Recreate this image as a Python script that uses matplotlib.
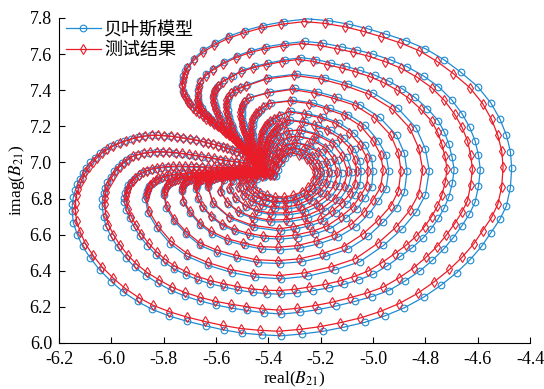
import matplotlib
matplotlib.use("Agg")
import matplotlib.pyplot as plt
from matplotlib.font_manager import FontProperties

plt.rcParams['font.family'] = ['Liberation Serif', 'DejaVu Serif']
plt.rcParams['mathtext.fontset'] = 'stix'
plt.rcParams['axes.unicode_minus'] = False

# B21 values, one list per revolution of the spiral
# (outermost first); each list runs: centre -> up-left finger -> top -> right
# -> bottom -> left -> left lobe -> back to centre
blue_1 = [(-5.45, 7.03), (-5.46, 7.045), (-5.47, 7.06), (-5.48, 7.072), (-5.49, 7.085),
          (-5.50, 7.097), (-5.51, 7.11), (-5.522, 7.125), (-5.535, 7.14), (-5.547, 7.155),
          (-5.56, 7.17), (-5.575, 7.185), (-5.59, 7.20), (-5.605, 7.215), (-5.62, 7.23),
          (-5.635, 7.245), (-5.65, 7.26), (-5.663, 7.275), (-5.675, 7.29), (-5.688, 7.307),
          (-5.70, 7.325), (-5.708, 7.342), (-5.715, 7.36), (-5.722, 7.378), (-5.727, 7.395),
          (-5.73, 7.43), (-5.728, 7.455), (-5.725, 7.48), (-5.718, 7.505), (-5.71, 7.53),
          (-5.685, 7.575), (-5.65, 7.62), (-5.605, 7.66), (-5.55, 7.70), (-5.49, 7.73),
          (-5.42, 7.758), (-5.34, 7.78), (-5.25, 7.795), (-5.17, 7.785), (-5.09, 7.765),
          (-5.02, 7.74), (-4.95, 7.71), (-4.875, 7.675), (-4.80, 7.63), (-4.73, 7.57),
          (-4.665, 7.50), (-4.60, 7.42), (-4.55, 7.33), (-4.515, 7.24), (-4.49, 7.15),
          (-4.475, 7.06), (-4.47, 6.97), (-4.475, 6.86), (-4.49, 6.76), (-4.515, 6.685),
          (-4.55, 6.61), (-4.585, 6.535), (-4.63, 6.46), (-4.68, 6.39), (-4.74, 6.32),
          (-4.805, 6.255), (-4.88, 6.195), (-4.955, 6.15), (-5.03, 6.115), (-5.11, 6.088),
          (-5.19, 6.065), (-5.27, 6.05), (-5.35, 6.04), (-5.425, 6.045), (-5.50, 6.055),
          (-5.57, 6.072), (-5.64, 6.095), (-5.71, 6.12), (-5.78, 6.15), (-5.845, 6.187),
          (-5.90, 6.23), (-5.955, 6.283), (-6.00, 6.34), (-6.045, 6.405), (-6.08, 6.47),
          (-6.11, 6.535), (-6.13, 6.60), (-6.145, 6.665),
          (-6.15, 6.73), (-6.149, 6.77), (-6.145, 6.81), (-6.138, 6.845), (-6.13, 6.88),
          (-6.12, 6.91), (-6.11, 6.94), (-6.095, 6.97), (-6.08, 7.00), (-6.063, 7.025),
          (-6.045, 7.05), (-6.023, 7.071), (-6.00, 7.09), (-5.975, 7.106), (-5.95, 7.12),
          (-5.925, 7.131), (-5.90, 7.14), (-5.875, 7.146), (-5.85, 7.15), (-5.825, 7.15),
          (-5.80, 7.148), (-5.775, 7.145), (-5.75, 7.14), (-5.725, 7.135), (-5.70, 7.13),
          (-5.675, 7.123), (-5.65, 7.115), (-5.63, 7.108), (-5.61, 7.10), (-5.59, 7.093),
          (-5.57, 7.085), (-5.552, 7.077), (-5.535, 7.068), (-5.518, 7.059), (-5.50, 7.05),
          (-5.485, 7.04), (-5.47, 7.03)]
blue_2 = [(-5.45, 7.00), (-5.457, 7.015), (-5.465, 7.03), (-5.472, 7.045), (-5.48, 7.06),
          (-5.49, 7.075), (-5.50, 7.09), (-5.51, 7.105), (-5.52, 7.12), (-5.532, 7.135),
          (-5.545, 7.15), (-5.557, 7.165), (-5.57, 7.18), (-5.582, 7.195), (-5.595, 7.21),
          (-5.607, 7.225), (-5.62, 7.24), (-5.63, 7.255), (-5.64, 7.27), (-5.648, 7.285),
          (-5.655, 7.30), (-5.66, 7.312), (-5.665, 7.325), (-5.668, 7.338), (-5.67, 7.35),
          (-5.669, 7.375), (-5.667, 7.40), (-5.664, 7.425),
          (-5.66, 7.45), (-5.638, 7.488), (-5.61, 7.52), (-5.568, 7.557), (-5.52, 7.59),
          (-5.467, 7.618), (-5.41, 7.64), (-5.335, 7.658), (-5.26, 7.67), (-5.19, 7.66),
          (-5.12, 7.64), (-5.06, 7.622), (-5.00, 7.60), (-4.933, 7.568), (-4.87, 7.53),
          (-4.807, 7.479), (-4.75, 7.42), (-4.70, 7.348), (-4.66, 7.27), (-4.631, 7.196),
          (-4.61, 7.12), (-4.597, 7.04), (-4.59, 6.96), (-4.597, 6.868), (-4.61, 6.78),
          (-4.632, 6.713), (-4.66, 6.65), (-4.693, 6.584), (-4.73, 6.52), (-4.773, 6.458),
          (-4.82, 6.40), (-4.878, 6.343), (-4.94, 6.29), (-5.004, 6.257), (-5.07, 6.23),
          (-5.14, 6.205), (-5.21, 6.185), (-5.28, 6.17), (-5.35, 6.16), (-5.415, 6.167),
          (-5.48, 6.18), (-5.54, 6.193), (-5.60, 6.21), (-5.662, 6.233), (-5.72, 6.26),
          (-5.772, 6.292), (-5.82, 6.33), (-5.868, 6.373), (-5.91, 6.42), (-5.945, 6.473),
          (-5.975, 6.53), (-6.00, 6.587), (-6.02, 6.645), (-6.03, 6.70),
          (-6.035, 6.76), (-6.034, 6.795), (-6.03, 6.83), (-6.024, 6.86), (-6.015, 6.89),
          (-6.003, 6.92), (-5.99, 6.95), (-5.975, 6.973), (-5.96, 6.995), (-5.943, 7.013),
          (-5.925, 7.03), (-5.903, 7.041), (-5.88, 7.05), (-5.855, 7.054), (-5.83, 7.057),
          (-5.805, 7.057), (-5.78, 7.055), (-5.755, 7.052), (-5.73, 7.048), (-5.705, 7.043),
          (-5.68, 7.037), (-5.655, 7.031), (-5.63, 7.025), (-5.605, 7.019), (-5.58, 7.013),
          (-5.56, 7.009), (-5.54, 7.005), (-5.52, 7.001), (-5.50, 6.998), (-5.485, 6.995),
          (-5.47, 6.993)]
blue_3 = [(-5.44, 6.985), (-5.447, 7.00), (-5.455, 7.015), (-5.462, 7.03), (-5.47, 7.045),
          (-5.48, 7.06), (-5.49, 7.075), (-5.50, 7.09), (-5.51, 7.105), (-5.52, 7.12),
          (-5.53, 7.135), (-5.54, 7.15), (-5.55, 7.165), (-5.558, 7.18), (-5.565, 7.20),
          (-5.572, 7.22), (-5.58, 7.24), (-5.588, 7.26), (-5.595, 7.28), (-5.60, 7.30),
          (-5.605, 7.32), (-5.608, 7.34), (-5.61, 7.36), (-5.608, 7.38), (-5.605, 7.40),
          (-5.598, 7.415), (-5.59, 7.43), (-5.57, 7.455), (-5.537, 7.48),
          (-5.50, 7.51), (-5.452, 7.533), (-5.40, 7.55), (-5.338, 7.568), (-5.275, 7.58),
          (-5.217, 7.57), (-5.16, 7.55), (-5.104, 7.532), (-5.05, 7.51), (-4.993, 7.483),
          (-4.94, 7.45), (-4.888, 7.408), (-4.84, 7.36), (-4.792, 7.298), (-4.75, 7.23),
          (-4.727, 7.166), (-4.71, 7.10), (-4.698, 7.03), (-4.69, 6.96), (-4.697, 6.884),
          (-4.71, 6.81), (-4.728, 6.748), (-4.75, 6.69), (-4.778, 6.633), (-4.81, 6.58),
          (-4.85, 6.528), (-4.895, 6.48), (-4.946, 6.427), (-5.00, 6.38), (-5.054, 6.35),
          (-5.11, 6.325), (-5.17, 6.305), (-5.23, 6.29), (-5.29, 6.277), (-5.35, 6.27),
          (-5.405, 6.273), (-5.46, 6.28), (-5.515, 6.293), (-5.57, 6.31), (-5.622, 6.328),
          (-5.67, 6.35), (-5.716, 6.378), (-5.76, 6.41), (-5.797, 6.447), (-5.83, 6.49),
          (-5.862, 6.538), (-5.89, 6.59), (-5.912, 6.64), (-5.93, 6.69), (-5.943, 6.735),
          (-5.95, 6.78), (-5.95, 6.805), (-5.948, 6.83), (-5.942, 6.853), (-5.935, 6.875),
          (-5.925, 6.893), (-5.915, 6.91), (-5.90, 6.926), (-5.885, 6.94), (-5.868, 6.951),
          (-5.85, 6.96), (-5.83, 6.966), (-5.81, 6.97), (-5.787, 6.973), (-5.765, 6.975),
          (-5.742, 6.976), (-5.72, 6.975), (-5.697, 6.974), (-5.675, 6.973), (-5.652, 6.972),
          (-5.63, 6.97), (-5.607, 6.969), (-5.585, 6.968), (-5.565, 6.967), (-5.545, 6.966),
          (-5.525, 6.965), (-5.505, 6.965), (-5.487, 6.965), (-5.47, 6.965)]
blue_4 = [(-5.435, 6.97), (-5.442, 6.985), (-5.45, 7.00), (-5.457, 7.015), (-5.465, 7.03),
          (-5.472, 7.045), (-5.48, 7.06), (-5.488, 7.075), (-5.495, 7.09), (-5.503, 7.105),
          (-5.51, 7.12), (-5.517, 7.135), (-5.524, 7.15), (-5.53, 7.17), (-5.535, 7.19),
          (-5.54, 7.21), (-5.545, 7.23), (-5.55, 7.25), (-5.553, 7.27), (-5.556, 7.29),
          (-5.558, 7.31), (-5.558, 7.33), (-5.556, 7.35), (-5.55, 7.37), (-5.54, 7.39),
          (-5.525, 7.405), (-5.505, 7.418), (-5.48, 7.43),
          (-5.40, 7.47), (-5.29, 7.49), (-5.185, 7.47), (-5.095, 7.435), (-5.00, 7.385),
          (-4.905, 7.30), (-4.835, 7.19), (-4.80, 7.075), (-4.785, 6.955), (-4.80, 6.82),
          (-4.835, 6.725), (-4.89, 6.63), (-4.96, 6.54), (-5.05, 6.45), (-5.145, 6.405),
          (-5.25, 6.37), (-5.35, 6.355), (-5.45, 6.365), (-5.54, 6.39), (-5.63, 6.43),
          (-5.71, 6.48), (-5.775, 6.55), (-5.825, 6.635), (-5.86, 6.72),
          (-5.87, 6.80), (-5.868, 6.82), (-5.865, 6.84), (-5.86, 6.855), (-5.855, 6.87),
          (-5.846, 6.883), (-5.835, 6.895), (-5.823, 6.905), (-5.81, 6.913), (-5.795, 6.92),
          (-5.78, 6.925), (-5.762, 6.929), (-5.745, 6.932), (-5.725, 6.935), (-5.705, 6.937),
          (-5.685, 6.939), (-5.665, 6.94), (-5.645, 6.942), (-5.625, 6.943), (-5.605, 6.945),
          (-5.585, 6.946), (-5.565, 6.948), (-5.545, 6.949), (-5.525, 6.951), (-5.505, 6.952),
          (-5.487, 6.953), (-5.47, 6.955)]
blue_5 = [(-5.43, 6.96), (-5.434, 6.975), (-5.438, 6.99), (-5.442, 7.005), (-5.446, 7.02),
          (-5.45, 7.035), (-5.454, 7.05), (-5.458, 7.065), (-5.462, 7.08), (-5.466, 7.095),
          (-5.47, 7.11), (-5.474, 7.125), (-5.478, 7.14), (-5.482, 7.155), (-5.486, 7.17),
          (-5.49, 7.185), (-5.493, 7.20), (-5.496, 7.22), (-5.499, 7.24), (-5.501, 7.26),
          (-5.502, 7.28), (-5.50, 7.30), (-5.496, 7.32), (-5.488, 7.34), (-5.47, 7.36),
          (-5.395, 7.39), (-5.30, 7.41), (-5.21, 7.39), (-5.135, 7.36), (-5.05, 7.32),
          (-4.975, 7.25), (-4.91, 7.15), (-4.88, 7.05), (-4.87, 6.95), (-4.88, 6.835),
          (-4.91, 6.75), (-4.96, 6.67), (-5.02, 6.59), (-5.095, 6.52), (-5.18, 6.48),
          (-5.27, 6.45), (-5.355, 6.44), (-5.44, 6.445), (-5.52, 6.47), (-5.595, 6.50),
          (-5.66, 6.54), (-5.715, 6.605), (-5.76, 6.675), (-5.79, 6.75),
          (-5.80, 6.82), (-5.798, 6.838), (-5.795, 6.855), (-5.788, 6.868), (-5.78, 6.88),
          (-5.77, 6.889), (-5.76, 6.897), (-5.748, 6.904), (-5.735, 6.91), (-5.72, 6.914),
          (-5.705, 6.918), (-5.688, 6.921), (-5.67, 6.924), (-5.652, 6.927), (-5.635, 6.929),
          (-5.618, 6.931), (-5.60, 6.933), (-5.583, 6.935), (-5.565, 6.937), (-5.548, 6.939),
          (-5.53, 6.941), (-5.512, 6.943), (-5.495, 6.945), (-5.48, 6.947), (-5.465, 6.948)]
blue_6 = [(-5.425, 6.955), (-5.428, 6.97), (-5.431, 6.985), (-5.434, 7.00), (-5.437, 7.015),
          (-5.44, 7.03), (-5.443, 7.045), (-5.446, 7.06), (-5.449, 7.075), (-5.452, 7.09),
          (-5.455, 7.105), (-5.457, 7.12), (-5.459, 7.135), (-5.46, 7.15), (-5.461, 7.165),
          (-5.461, 7.18), (-5.46, 7.20), (-5.458, 7.22), (-5.455, 7.24), (-5.448, 7.26),
          (-5.44, 7.275), (-5.43, 7.29), (-5.412, 7.31),
          (-5.39, 7.33), (-5.305, 7.345), (-5.23, 7.33), (-5.165, 7.30), (-5.095, 7.265),
          (-5.03, 7.205), (-4.98, 7.12), (-4.95, 7.04), (-4.94, 6.955), (-4.95, 6.855),
          (-4.98, 6.785), (-5.015, 6.715), (-5.065, 6.645), (-5.135, 6.585), (-5.205, 6.55),
          (-5.28, 6.525), (-5.355, 6.515), (-5.425, 6.52), (-5.49, 6.54), (-5.555, 6.565),
          (-5.615, 6.605), (-5.66, 6.655), (-5.70, 6.72), (-5.725, 6.78),
          (-5.73, 6.84), (-5.729, 6.855), (-5.727, 6.87), (-5.722, 6.88), (-5.715, 6.89),
          (-5.706, 6.898), (-5.695, 6.905), (-5.683, 6.91), (-5.67, 6.915), (-5.655, 6.919),
          (-5.64, 6.922), (-5.622, 6.925), (-5.605, 6.928), (-5.588, 6.931), (-5.57, 6.933),
          (-5.552, 6.935), (-5.535, 6.937), (-5.518, 6.939), (-5.50, 6.941), (-5.485, 6.943),
          (-5.47, 6.944)]
blue_7 = [(-5.42, 6.95), (-5.421, 6.965), (-5.422, 6.98), (-5.423, 6.995), (-5.424, 7.01),
          (-5.425, 7.025), (-5.426, 7.04), (-5.427, 7.055), (-5.427, 7.07), (-5.427, 7.085),
          (-5.426, 7.10), (-5.425, 7.115), (-5.424, 7.13), (-5.422, 7.145), (-5.419, 7.16),
          (-5.415, 7.175), (-5.41, 7.19), (-5.403, 7.205), (-5.395, 7.218), (-5.385, 7.232),
          (-5.37, 7.247), (-5.35, 7.262),
          (-5.313, 7.284), (-5.25, 7.27), (-5.19, 7.25), (-5.13, 7.22), (-5.074, 7.165),
          (-5.03, 7.095), (-5.005, 7.023), (-5.00, 6.95), (-5.005, 6.865), (-5.03, 6.805),
          (-5.06, 6.744), (-5.105, 6.69), (-5.163, 6.634), (-5.22, 6.605), (-5.288, 6.584),
          (-5.355, 6.575), (-5.414, 6.58), (-5.47, 6.595), (-5.527, 6.618), (-5.575, 6.65),
          (-5.616, 6.695), (-5.65, 6.75), (-5.669, 6.80),
          (-5.675, 6.855), (-5.674, 6.868), (-5.672, 6.88), (-5.667, 6.89), (-5.66, 6.898),
          (-5.651, 6.905), (-5.64, 6.912), (-5.628, 6.916), (-5.615, 6.92), (-5.60, 6.923),
          (-5.585, 6.926), (-5.568, 6.929), (-5.55, 6.931), (-5.532, 6.933), (-5.515, 6.935),
          (-5.498, 6.937), (-5.48, 6.938), (-5.465, 6.939), (-5.45, 6.94)]
blue_8 = [(-5.415, 6.945), (-5.415, 6.96), (-5.415, 6.975), (-5.415, 6.99), (-5.414, 7.005),
          (-5.413, 7.02), (-5.412, 7.035), (-5.41, 7.05), (-5.408, 7.065), (-5.405, 7.08),
          (-5.402, 7.095), (-5.398, 7.11), (-5.393, 7.125), (-5.388, 7.14), (-5.382, 7.155),
          (-5.375, 7.17), (-5.367, 7.183), (-5.358, 7.196), (-5.345, 7.21), (-5.33, 7.225),
          (-5.317, 7.236), (-5.26, 7.225), (-5.212, 7.207), (-5.16, 7.18), (-5.11, 7.133),
          (-5.07, 7.075), (-5.051, 7.01), (-5.045, 6.95), (-5.051, 6.874), (-5.07, 6.82),
          (-5.10, 6.769), (-5.14, 6.72), (-5.187, 6.674), (-5.24, 6.65), (-5.296, 6.631),
          (-5.35, 6.62), (-5.455, 6.64), (-5.545, 6.69), (-5.61, 6.77),
          (-5.63, 6.865), (-5.629, 6.878), (-5.627, 6.89), (-5.622, 6.898), (-5.615, 6.905),
          (-5.606, 6.91), (-5.595, 6.915), (-5.583, 6.919), (-5.57, 6.922), (-5.555, 6.925),
          (-5.54, 6.927), (-5.525, 6.929), (-5.51, 6.931), (-5.492, 6.933), (-5.475, 6.934),
          (-5.46, 6.935), (-5.445, 6.936)]
blue_9 = [(-5.41, 6.945), (-5.405, 7.0), (-5.395, 7.05), (-5.38, 7.10), (-5.355, 7.145),
          (-5.32, 7.175), (-5.27, 7.18), (-5.205, 7.155), (-5.14, 7.105), (-5.10, 7.03),
          (-5.08, 6.945), (-5.095, 6.86), (-5.13, 6.79), (-5.185, 6.73), (-5.25, 6.69),
          (-5.32, 6.672), (-5.39, 6.67), (-5.455, 6.688), (-5.51, 6.72), (-5.553, 6.77),
          (-5.58, 6.835), (-5.57, 6.90), (-5.53, 6.925), (-5.49, 6.935), (-5.45, 6.94)]
blue_10 = [(-5.40, 6.94), (-5.393, 6.99), (-5.383, 7.04), (-5.365, 7.085), (-5.34, 7.12),
           (-5.31, 7.14), (-5.28, 7.145), (-5.22, 7.125), (-5.17, 7.08), (-5.135, 7.015),
           (-5.12, 6.94), (-5.13, 6.87), (-5.16, 6.81), (-5.205, 6.76), (-5.26, 6.725),
           (-5.32, 6.71), (-5.385, 6.71), (-5.44, 6.725), (-5.485, 6.755), (-5.522, 6.798),
           (-5.545, 6.85), (-5.535, 6.895), (-5.50, 6.92), (-5.46, 6.932), (-5.43, 6.937)]
blue_11 = [(-5.39, 6.935), (-5.383, 6.98), (-5.372, 7.02), (-5.355, 7.06), (-5.33, 7.09),
           (-5.29, 7.11), (-5.24, 7.093), (-5.195, 7.055), (-5.165, 7.0), (-5.155, 6.94),
           (-5.165, 6.88), (-5.19, 6.83), (-5.23, 6.787), (-5.275, 6.755), (-5.325, 6.742),
           (-5.375, 6.745), (-5.42, 6.758), (-5.46, 6.78), (-5.49, 6.815), (-5.51, 6.86),
           (-5.50, 6.90), (-5.47, 6.92), (-5.435, 6.93), (-5.41, 6.933)]
blue_12 = [(-5.38, 6.93), (-5.372, 6.97), (-5.36, 7.01), (-5.34, 7.045), (-5.32, 7.07),
           (-5.295, 7.08), (-5.255, 7.065), (-5.22, 7.035), (-5.195, 6.99), (-5.185, 6.94),
           (-5.193, 6.89), (-5.215, 6.845), (-5.245, 6.81), (-5.285, 6.785), (-5.325, 6.775),
           (-5.37, 6.775), (-5.41, 6.787), (-5.445, 6.805), (-5.47, 6.835), (-5.485, 6.87),
           (-5.47, 6.91), (-5.44, 6.925), (-5.405, 6.93)]
blue_13 = [(-5.37, 6.925), (-5.362, 6.96), (-5.35, 6.995), (-5.335, 7.025), (-5.305, 7.055),
           (-5.27, 7.04), (-5.24, 7.015), (-5.218, 6.98), (-5.21, 6.94), (-5.217, 6.897),
           (-5.235, 6.86), (-5.262, 6.83), (-5.295, 6.81), (-5.33, 6.80), (-5.365, 6.80),
           (-5.398, 6.81), (-5.425, 6.825), (-5.447, 6.85), (-5.46, 6.88), (-5.445, 6.91),
           (-5.415, 6.922), (-5.385, 6.925)]

red_1 = [(-5.457, 7.033), (-5.467, 7.047), (-5.476, 7.062), (-5.486, 7.074), (-5.496, 7.086),
         (-5.505, 7.098), (-5.515, 7.111), (-5.527, 7.125), (-5.54, 7.14), (-5.551, 7.155),
         (-5.564, 7.169), (-5.578, 7.184), (-5.593, 7.199), (-5.608, 7.213), (-5.622, 7.228),
         (-5.637, 7.243), (-5.651, 7.257), (-5.664, 7.272), (-5.676, 7.287), (-5.688, 7.303),
         (-5.70, 7.321), (-5.708, 7.337), (-5.715, 7.355), (-5.721, 7.372), (-5.726, 7.389),
         (-5.729, 7.423), (-5.727, 7.448), (-5.724, 7.472), (-5.718, 7.497), (-5.71, 7.521),
         (-5.685, 7.565), (-5.651, 7.609), (-5.608, 7.648), (-5.554, 7.687), (-5.496, 7.716),
         (-5.428, 7.744), (-5.35, 7.765), (-5.262, 7.78), (-5.184, 7.77), (-5.107, 7.751),
         (-5.038, 7.726), (-4.97, 7.697), (-4.897, 7.663), (-4.824, 7.619), (-4.756, 7.56),
         (-4.693, 7.492), (-4.63, 7.414), (-4.581, 7.326), (-4.547, 7.238), (-4.523, 7.15),
         (-4.508, 7.062), (-4.503, 6.974), (-4.508, 6.866), (-4.523, 6.769), (-4.547, 6.695),
         (-4.581, 6.622), (-4.615, 6.549), (-4.659, 6.476), (-4.708, 6.407), (-4.766, 6.339),
         (-4.829, 6.275), (-4.902, 6.217), (-4.975, 6.173), (-5.048, 6.139), (-5.126, 6.112),
         (-5.204, 6.09), (-5.282, 6.075), (-5.36, 6.065), (-5.432, 6.07), (-5.505, 6.08),
         (-5.574, 6.097), (-5.642, 6.119), (-5.71, 6.143), (-5.778, 6.173), (-5.841, 6.209),
         (-5.895, 6.251), (-5.948, 6.303), (-5.992, 6.358), (-6.036, 6.422), (-6.07, 6.485),
         (-6.099, 6.549), (-6.118, 6.612), (-6.133, 6.676),
         (-6.138, 6.739), (-6.137, 6.778), (-6.133, 6.818), (-6.126, 6.852), (-6.118, 6.886),
         (-6.109, 6.916), (-6.099, 6.945), (-6.085, 6.974), (-6.07, 7.003), (-6.054, 7.027),
         (-6.036, 7.052), (-6.015, 7.072), (-5.992, 7.091), (-5.968, 7.107), (-5.943, 7.12),
         (-5.919, 7.131), (-5.895, 7.14), (-5.87, 7.146), (-5.846, 7.15), (-5.822, 7.15),
         (-5.797, 7.148), (-5.773, 7.145), (-5.749, 7.14), (-5.725, 7.135), (-5.70, 7.13),
         (-5.676, 7.123), (-5.651, 7.115), (-5.632, 7.108), (-5.612, 7.10), (-5.593, 7.093),
         (-5.574, 7.086), (-5.557, 7.078), (-5.54, 7.069), (-5.523, 7.06), (-5.505, 7.052),
         (-5.491, 7.042), (-5.476, 7.032)]
red_2 = [(-5.457, 7.003), (-5.464, 7.018), (-5.471, 7.033), (-5.478, 7.048), (-5.486, 7.062),
         (-5.495, 7.077), (-5.505, 7.091), (-5.515, 7.106), (-5.525, 7.12), (-5.537, 7.135),
         (-5.549, 7.15), (-5.561, 7.165), (-5.574, 7.179), (-5.585, 7.194), (-5.598, 7.208),
         (-5.61, 7.223), (-5.622, 7.238), (-5.632, 7.252), (-5.642, 7.267), (-5.65, 7.282),
         (-5.656, 7.296), (-5.661, 7.308), (-5.666, 7.321), (-5.669, 7.333), (-5.671, 7.345),
         (-5.67, 7.369), (-5.668, 7.394), (-5.665, 7.418),
         (-5.661, 7.443), (-5.64, 7.48), (-5.612, 7.511), (-5.572, 7.547), (-5.525, 7.58),
         (-5.473, 7.607), (-5.418, 7.628), (-5.345, 7.646), (-5.272, 7.658), (-5.204, 7.648),
         (-5.136, 7.628), (-5.077, 7.611), (-5.019, 7.589), (-4.954, 7.558), (-4.892, 7.521),
         (-4.831, 7.471), (-4.776, 7.414), (-4.727, 7.343), (-4.688, 7.267), (-4.66, 7.195),
         (-4.639, 7.12), (-4.627, 7.042), (-4.62, 6.964), (-4.627, 6.874), (-4.639, 6.788),
         (-4.661, 6.723), (-4.688, 6.661), (-4.72, 6.597), (-4.756, 6.534), (-4.798, 6.474),
         (-4.844, 6.417), (-4.90, 6.361), (-4.96, 6.31), (-5.023, 6.277), (-5.087, 6.251),
         (-5.155, 6.226), (-5.223, 6.207), (-5.291, 6.192), (-5.36, 6.182), (-5.423, 6.189),
         (-5.486, 6.202), (-5.544, 6.215), (-5.603, 6.231), (-5.663, 6.254), (-5.72, 6.28),
         (-5.77, 6.311), (-5.817, 6.349), (-5.864, 6.391), (-5.904, 6.437), (-5.938, 6.488),
         (-5.968, 6.544), (-5.992, 6.60), (-6.011, 6.656), (-6.021, 6.71),
         (-6.026, 6.769), (-6.025, 6.803), (-6.021, 6.837), (-6.015, 6.867), (-6.007, 6.896),
         (-5.995, 6.925), (-5.982, 6.954), (-5.968, 6.976), (-5.953, 6.998), (-5.936, 7.015),
         (-5.919, 7.033), (-5.897, 7.043), (-5.875, 7.052), (-5.851, 7.056), (-5.827, 7.059),
         (-5.802, 7.059), (-5.778, 7.057), (-5.754, 7.054), (-5.729, 7.05), (-5.705, 7.045),
         (-5.681, 7.04), (-5.656, 7.034), (-5.632, 7.028), (-5.608, 7.022), (-5.583, 7.016),
         (-5.564, 7.012), (-5.544, 7.008), (-5.525, 7.004), (-5.505, 7.001), (-5.491, 6.998),
         (-5.476, 6.996)]
red_3 = [(-5.447, 6.989), (-5.454, 7.003), (-5.462, 7.018), (-5.468, 7.032), (-5.476, 7.047),
         (-5.486, 7.062), (-5.496, 7.077), (-5.505, 7.091), (-5.515, 7.106), (-5.525, 7.121),
         (-5.535, 7.135), (-5.545, 7.15), (-5.554, 7.165), (-5.562, 7.18), (-5.569, 7.199),
         (-5.576, 7.219), (-5.583, 7.239), (-5.591, 7.258), (-5.598, 7.278), (-5.603, 7.297),
         (-5.607, 7.317), (-5.61, 7.336), (-5.612, 7.355), (-5.61, 7.375), (-5.607, 7.394),
         (-5.60, 7.409), (-5.592, 7.424), (-5.573, 7.448), (-5.542, 7.472),
         (-5.506, 7.502), (-5.459, 7.524), (-5.408, 7.541), (-5.348, 7.558), (-5.287, 7.57),
         (-5.23, 7.56), (-5.175, 7.541), (-5.12, 7.523), (-5.068, 7.502), (-5.012, 7.475),
         (-4.961, 7.443), (-4.91, 7.402), (-4.863, 7.355), (-4.817, 7.294), (-4.776, 7.228),
         (-4.753, 7.166), (-4.737, 7.101), (-4.725, 7.033), (-4.717, 6.964), (-4.724, 6.89),
         (-4.737, 6.818), (-4.754, 6.757), (-4.776, 6.70), (-4.803, 6.645), (-4.834, 6.593),
         (-4.873, 6.542), (-4.917, 6.495), (-4.967, 6.444), (-5.019, 6.398), (-5.072, 6.368),
         (-5.126, 6.344), (-5.185, 6.324), (-5.243, 6.31), (-5.301, 6.297), (-5.36, 6.29),
         (-5.413, 6.293), (-5.467, 6.30), (-5.52, 6.313), (-5.574, 6.329), (-5.624, 6.347),
         (-5.671, 6.368), (-5.716, 6.396), (-5.759, 6.427), (-5.795, 6.463), (-5.827, 6.505),
         (-5.858, 6.552), (-5.885, 6.603), (-5.906, 6.652), (-5.924, 6.70), (-5.937, 6.744),
         (-5.943, 6.788), (-5.943, 6.813), (-5.941, 6.837), (-5.935, 6.86), (-5.929, 6.881),
         (-5.919, 6.899), (-5.909, 6.915), (-5.894, 6.93), (-5.88, 6.945), (-5.863, 6.955),
         (-5.846, 6.964), (-5.826, 6.97), (-5.807, 6.974), (-5.785, 6.977), (-5.763, 6.979),
         (-5.74, 6.98), (-5.72, 6.979), (-5.697, 6.978), (-5.676, 6.977), (-5.653, 6.976),
         (-5.632, 6.974), (-5.609, 6.973), (-5.588, 6.972), (-5.569, 6.971), (-5.549, 6.97),
         (-5.53, 6.969), (-5.51, 6.969), (-5.493, 6.969), (-5.476, 6.969)]
red_4 = [(-5.442, 6.973), (-5.449, 6.988), (-5.457, 7.003), (-5.464, 7.018), (-5.471, 7.032),
         (-5.478, 7.047), (-5.486, 7.062), (-5.494, 7.077), (-5.501, 7.092), (-5.509, 7.106),
         (-5.515, 7.121), (-5.522, 7.135), (-5.529, 7.15), (-5.535, 7.17), (-5.54, 7.189),
         (-5.544, 7.208), (-5.549, 7.228), (-5.554, 7.247), (-5.557, 7.267), (-5.56, 7.286),
         (-5.562, 7.305), (-5.562, 7.325), (-5.56, 7.344), (-5.554, 7.363), (-5.544, 7.383),
         (-5.529, 7.397), (-5.51, 7.41), (-5.486, 7.423),
         (-5.408, 7.462), (-5.301, 7.482), (-5.199, 7.462), (-5.112, 7.428), (-5.019, 7.379),
         (-4.927, 7.296), (-4.859, 7.189), (-4.825, 7.077), (-4.81, 6.959), (-4.825, 6.827),
         (-4.859, 6.735), (-4.912, 6.642), (-4.98, 6.554), (-5.068, 6.466), (-5.16, 6.422),
         (-5.262, 6.388), (-5.36, 6.373), (-5.457, 6.383), (-5.545, 6.407), (-5.632, 6.446),
         (-5.71, 6.495), (-5.773, 6.564), (-5.822, 6.647), (-5.856, 6.73),
         (-5.866, 6.808), (-5.864, 6.828), (-5.861, 6.847), (-5.856, 6.862), (-5.851, 6.877),
         (-5.842, 6.89), (-5.831, 6.901), (-5.82, 6.911), (-5.807, 6.919), (-5.793, 6.925),
         (-5.778, 6.93), (-5.761, 6.934), (-5.744, 6.937), (-5.725, 6.939), (-5.705, 6.941),
         (-5.686, 6.943), (-5.667, 6.944), (-5.647, 6.946), (-5.628, 6.947), (-5.609, 6.949),
         (-5.589, 6.95), (-5.57, 6.952), (-5.55, 6.953), (-5.531, 6.955), (-5.511, 6.956),
         (-5.494, 6.957), (-5.477, 6.959)]
red_5 = [(-5.438, 6.964), (-5.442, 6.979), (-5.446, 6.994), (-5.45, 7.009), (-5.453, 7.023),
         (-5.457, 7.038), (-5.461, 7.053), (-5.465, 7.067), (-5.469, 7.082), (-5.473, 7.097),
         (-5.477, 7.111), (-5.481, 7.126), (-5.484, 7.14), (-5.488, 7.155), (-5.492, 7.17),
         (-5.496, 7.184), (-5.499, 7.199), (-5.502, 7.219), (-5.505, 7.238), (-5.507, 7.257),
         (-5.508, 7.277), (-5.506, 7.296), (-5.502, 7.316), (-5.494, 7.335), (-5.477, 7.355),
         (-5.404, 7.384), (-5.311, 7.404), (-5.224, 7.384), (-5.151, 7.355), (-5.068, 7.316),
         (-4.995, 7.248), (-4.932, 7.15), (-4.903, 7.052), (-4.893, 6.954), (-4.903, 6.842),
         (-4.932, 6.759), (-4.98, 6.681), (-5.039, 6.603), (-5.112, 6.534), (-5.195, 6.495),
         (-5.282, 6.466), (-5.365, 6.456), (-5.447, 6.461), (-5.525, 6.486), (-5.598, 6.515),
         (-5.662, 6.554), (-5.715, 6.617), (-5.759, 6.686), (-5.788, 6.759),
         (-5.798, 6.827), (-5.796, 6.845), (-5.793, 6.861), (-5.786, 6.874), (-5.778, 6.886),
         (-5.768, 6.895), (-5.758, 6.903), (-5.746, 6.91), (-5.734, 6.915), (-5.719, 6.919),
         (-5.705, 6.923), (-5.688, 6.926), (-5.671, 6.929), (-5.653, 6.932), (-5.637, 6.934),
         (-5.62, 6.936), (-5.603, 6.938), (-5.586, 6.94), (-5.568, 6.942), (-5.551, 6.944),
         (-5.534, 6.946), (-5.516, 6.948), (-5.50, 6.95), (-5.486, 6.952), (-5.471, 6.953)]
red_6 = [(-5.433, 6.959), (-5.436, 6.974), (-5.439, 6.989), (-5.442, 7.004), (-5.445, 7.018),
         (-5.448, 7.033), (-5.451, 7.048), (-5.453, 7.062), (-5.456, 7.077), (-5.459, 7.092),
         (-5.462, 7.106), (-5.464, 7.121), (-5.466, 7.136), (-5.467, 7.15), (-5.468, 7.165),
         (-5.468, 7.179), (-5.467, 7.199), (-5.465, 7.219), (-5.462, 7.238), (-5.455, 7.258),
         (-5.447, 7.272), (-5.437, 7.287), (-5.42, 7.306),
         (-5.399, 7.326), (-5.316, 7.34), (-5.243, 7.326), (-5.18, 7.297), (-5.112, 7.262),
         (-5.049, 7.204), (-5.00, 7.121), (-4.971, 7.043), (-4.961, 6.959), (-4.971, 6.862),
         (-5.00, 6.793), (-5.034, 6.725), (-5.083, 6.657), (-5.151, 6.598), (-5.219, 6.564),
         (-5.292, 6.539), (-5.365, 6.53), (-5.433, 6.534), (-5.496, 6.554), (-5.559, 6.578),
         (-5.618, 6.618), (-5.662, 6.666), (-5.70, 6.73), (-5.725, 6.789),
         (-5.73, 6.847), (-5.729, 6.862), (-5.727, 6.876), (-5.722, 6.886), (-5.716, 6.896),
         (-5.707, 6.903), (-5.697, 6.91), (-5.685, 6.915), (-5.673, 6.92), (-5.658, 6.924),
         (-5.644, 6.927), (-5.627, 6.93), (-5.61, 6.932), (-5.593, 6.935), (-5.575, 6.937),
         (-5.557, 6.939), (-5.54, 6.941), (-5.523, 6.943), (-5.506, 6.945), (-5.491, 6.947),
         (-5.477, 6.948)]
red_7 = [(-5.428, 6.954), (-5.429, 6.969), (-5.43, 6.984), (-5.431, 6.998), (-5.432, 7.013),
         (-5.433, 7.027), (-5.434, 7.042), (-5.435, 7.056), (-5.435, 7.071), (-5.435, 7.085),
         (-5.434, 7.10), (-5.433, 7.114), (-5.432, 7.129), (-5.43, 7.143), (-5.427, 7.157),
         (-5.423, 7.172), (-5.418, 7.187), (-5.412, 7.201), (-5.404, 7.214), (-5.394, 7.228),
         (-5.379, 7.243), (-5.359, 7.258),
         (-5.324, 7.281), (-5.263, 7.267), (-5.204, 7.248), (-5.146, 7.218), (-5.091, 7.165),
         (-5.049, 7.096), (-5.024, 7.026), (-5.019, 6.955), (-5.024, 6.872), (-5.049, 6.813),
         (-5.078, 6.753), (-5.122, 6.70), (-5.178, 6.646), (-5.233, 6.618), (-5.30, 6.597),
         (-5.365, 6.588), (-5.422, 6.593), (-5.477, 6.608), (-5.532, 6.63), (-5.579, 6.661),
         (-5.619, 6.705), (-5.652, 6.759), (-5.67, 6.808),
         (-5.676, 6.862), (-5.675, 6.875), (-5.673, 6.886), (-5.668, 6.896), (-5.661, 6.904),
         (-5.653, 6.91), (-5.642, 6.917), (-5.63, 6.921), (-5.618, 6.925), (-5.603, 6.928),
         (-5.588, 6.931), (-5.571, 6.934), (-5.554, 6.936), (-5.536, 6.938), (-5.52, 6.94),
         (-5.503, 6.942), (-5.486, 6.943), (-5.471, 6.944), (-5.457, 6.945)]
red_8 = [(-5.423, 6.949), (-5.423, 6.964), (-5.423, 6.979), (-5.423, 6.994), (-5.422, 7.008),
         (-5.421, 7.023), (-5.42, 7.038), (-5.418, 7.052), (-5.416, 7.067), (-5.413, 7.082),
         (-5.41, 7.096), (-5.406, 7.111), (-5.401, 7.126), (-5.396, 7.14), (-5.39, 7.155),
         (-5.383, 7.169), (-5.375, 7.182), (-5.366, 7.195), (-5.354, 7.208), (-5.339, 7.223),
         (-5.328, 7.234), (-5.272, 7.223), (-5.226, 7.206), (-5.175, 7.179), (-5.126, 7.133),
         (-5.087, 7.077), (-5.069, 7.013), (-5.063, 6.955), (-5.069, 6.88), (-5.087, 6.828),
         (-5.117, 6.778), (-5.156, 6.73), (-5.201, 6.685), (-5.253, 6.661), (-5.307, 6.643),
         (-5.36, 6.632), (-5.462, 6.652), (-5.55, 6.70), (-5.613, 6.779),
         (-5.632, 6.871), (-5.631, 6.884), (-5.629, 6.895), (-5.624, 6.903), (-5.618, 6.91),
         (-5.609, 6.915), (-5.598, 6.92), (-5.586, 6.923), (-5.574, 6.927), (-5.559, 6.929),
         (-5.545, 6.932), (-5.53, 6.934), (-5.516, 6.936), (-5.498, 6.937), (-5.481, 6.939),
         (-5.466, 6.94), (-5.452, 6.941)]
red_9 = [(-5.418, 6.95), (-5.413, 7.003), (-5.404, 7.052), (-5.389, 7.101), (-5.365, 7.145),
         (-5.331, 7.174), (-5.282, 7.179), (-5.219, 7.155), (-5.155, 7.106), (-5.117, 7.033),
         (-5.097, 6.95), (-5.112, 6.867), (-5.146, 6.798), (-5.199, 6.74), (-5.262, 6.70),
         (-5.331, 6.683), (-5.399, 6.681), (-5.462, 6.699), (-5.515, 6.73), (-5.557, 6.779),
         (-5.584, 6.842), (-5.574, 6.906), (-5.535, 6.93), (-5.496, 6.94), (-5.457, 6.945)]
red_10 = [(-5.408, 6.945), (-5.402, 6.994), (-5.392, 7.043), (-5.374, 7.086), (-5.35, 7.121),
          (-5.321, 7.14), (-5.292, 7.145), (-5.233, 7.126), (-5.185, 7.082), (-5.151, 7.018),
          (-5.136, 6.945), (-5.146, 6.876), (-5.175, 6.818), (-5.219, 6.769), (-5.272, 6.735),
          (-5.331, 6.72), (-5.394, 6.72), (-5.447, 6.735), (-5.491, 6.764), (-5.527, 6.806),
          (-5.55, 6.857), (-5.54, 6.901), (-5.506, 6.925), (-5.467, 6.937), (-5.438, 6.942)]
red_11 = [(-5.398, 6.94), (-5.391, 6.984), (-5.38, 7.023), (-5.364, 7.062), (-5.34, 7.091),
          (-5.301, 7.11), (-5.253, 7.094), (-5.209, 7.057), (-5.18, 7.004), (-5.17, 6.945),
          (-5.18, 6.886), (-5.204, 6.837), (-5.243, 6.795), (-5.287, 6.764), (-5.336, 6.752),
          (-5.384, 6.754), (-5.428, 6.767), (-5.467, 6.788), (-5.496, 6.822), (-5.515, 6.866),
          (-5.505, 6.906), (-5.476, 6.925), (-5.442, 6.935), (-5.418, 6.938)]
red_12 = [(-5.388, 6.935), (-5.38, 6.974), (-5.369, 7.013), (-5.35, 7.047), (-5.331, 7.072),
          (-5.307, 7.081), (-5.268, 7.067), (-5.234, 7.037), (-5.209, 6.993), (-5.199, 6.945),
          (-5.207, 6.896), (-5.228, 6.852), (-5.258, 6.818), (-5.297, 6.793), (-5.336, 6.784),
          (-5.379, 6.784), (-5.418, 6.795), (-5.452, 6.813), (-5.476, 6.842), (-5.49, 6.877),
          (-5.476, 6.916), (-5.447, 6.93), (-5.413, 6.935)]
red_13 = [(-5.378, 6.93), (-5.37, 6.964), (-5.359, 6.997), (-5.345, 7.027), (-5.316, 7.056),
          (-5.282, 7.041), (-5.253, 7.017), (-5.232, 6.983), (-5.222, 6.945), (-5.229, 6.903),
          (-5.247, 6.866), (-5.273, 6.837), (-5.306, 6.817), (-5.34, 6.808), (-5.374, 6.808),
          (-5.406, 6.818), (-5.432, 6.832), (-5.453, 6.857), (-5.466, 6.886), (-5.452, 6.915),
          (-5.423, 6.927), (-5.393, 6.93)]

blue_loops = [blue_1, blue_2, blue_3, blue_4, blue_5, blue_6, blue_7,
              blue_8, blue_9, blue_10, blue_11, blue_12, blue_13]
red_loops = [red_1, red_2, red_3, red_4, red_5, red_6, red_7,
             red_8, red_9, red_10, red_11, red_12, red_13]

x_ticks = [-6.2, -6.0, -5.8, -5.6, -5.4, -5.2, -5.0, -4.8, -4.6, -4.4]
y_ticks = [6.0, 6.2, 6.4, 6.6, 6.8, 7.0, 7.2, 7.4, 7.6, 7.8]

BLUE = '#1f8bd3'
RED = '#ea1c28'

bx = [p[0] for loop in blue_loops for p in loop]
by = [p[1] for loop in blue_loops for p in loop]
rx = [p[0] for loop in red_loops for p in loop]
ry = [p[1] for loop in red_loops for p in loop]

fig = plt.figure(figsize=(5.44, 3.89), dpi=100)
ax = fig.add_axes([0.1085, 0.1183, 0.8658, 0.8355])

ax.plot(bx, by, color=BLUE, lw=0.9, marker='o', ms=4.8, mfc='none', mew=0.8,
        label='贝叶斯模型')
ax.plot(rx, ry, color=RED, lw=0.9, marker='d', ms=5.6, mfc='none', mew=0.8,
        label='测试结果')

ax.set_xlim(-6.2, -4.4)
ax.set_ylim(6.0, 7.8)
ax.set_xticks(x_ticks)
ax.set_yticks(y_ticks)
ax.set_xticklabels(['%.1f' % v for v in x_ticks])
ax.set_yticklabels(['%.1f' % v for v in y_ticks])
ax.tick_params(direction='in', length=4, width=0.8, labelsize=13)
ax.tick_params(axis='x', pad=5.5)
ax.tick_params(axis='y', pad=5)
ax.spines['top'].set_visible(False)
ax.spines['right'].set_visible(False)

ax.set_xlabel(r'real($\mathit{B}_{\mathrm{21}}$)', fontsize=12.5, va='top')
ax.xaxis.set_label_coords(0.5, -0.082)
ax.set_ylabel(r'imag($\mathit{B}_{\mathrm{21}}$)', fontsize=12.5, labelpad=2)

cjk = FontProperties(family=['Noto Sans CJK SC', 'DejaVu Sans'], size=13)
ax.legend(loc='upper left', bbox_to_anchor=(0.0, 1.015), frameon=False, prop=cjk,
          handlelength=1.9, handletextpad=0.2, labelspacing=0.15, borderaxespad=0)

fig.savefig('out.png', dpi=100)
